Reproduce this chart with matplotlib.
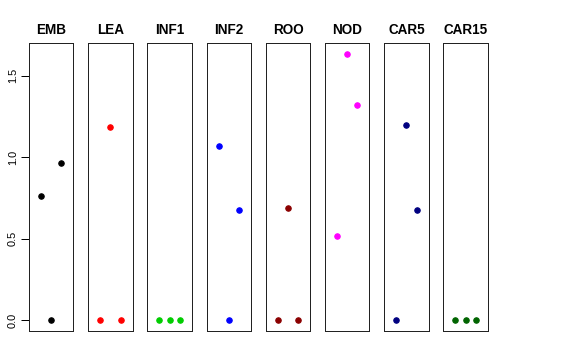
import matplotlib
matplotlib.use("Agg")
import matplotlib.pyplot as plt

# data (three points per panel, x = 1, 2, 3)
panels = ["EMB", "LEA", "INF1", "INF2", "ROO", "NOD", "CAR5", "CAR15"]
x_pos = [1, 2, 3]
emb = [0.764, 0.0, 0.964]
lea = [0.0, 1.183, 0.0]
inf1 = [0.0, 0.0, 0.0]
inf2 = [1.070, 0.0, 0.676]
roo = [0.0, 0.690, 0.0]
nod = [0.519, 1.635, 1.320]
car5 = [0.0, 1.196, 0.676]
car15 = [0.0, 0.0, 0.0]
series = [emb, lea, inf1, inf2, roo, nod, car5, car15]
colors = ["#000000", "#FF0000", "#00CD00", "#0000FF",
          "#8B0000", "#FF00FF", "#000080", "#006400"]
yticks = [0.0, 0.5, 1.0, 1.5]

plt.rcParams["font.family"] = ["Liberation Sans", "DejaVu Sans"]

W, H = 576, 360
fig = plt.figure(figsize=(W / 72, H / 72), dpi=72)

left0, pitch, width = 29, 59.2, 44.4
top, bottom = 43, 331

for i, (name, vals, col) in enumerate(zip(panels, series, colors)):
    x0 = left0 + i * pitch
    ax = fig.add_axes([x0 / W, (H - bottom) / H, width / W, (bottom - top) / H])
    ax.plot(x_pos, vals, "o", color=col, markersize=5.5, linestyle="none")
    ax.set_xlim(-0.16, 4.16)
    ax.set_ylim(-0.065, 1.7)
    ax.set_xticks([])
    for sp in ax.spines.values():
        sp.set_linewidth(1.0)
        sp.set_color("#222222")
    ax.set_title(name, fontsize=13.5, fontweight="bold", pad=9)
    if i == 0:
        ax.set_yticks(yticks)
        ax.set_yticklabels([f"{v:.1f}" for v in yticks], rotation=90,
                           va="center", fontsize=11)
        ax.tick_params(axis="y", length=8, width=1, pad=3)
    else:
        ax.set_yticks([])

fig.savefig("out.png", dpi=72)
